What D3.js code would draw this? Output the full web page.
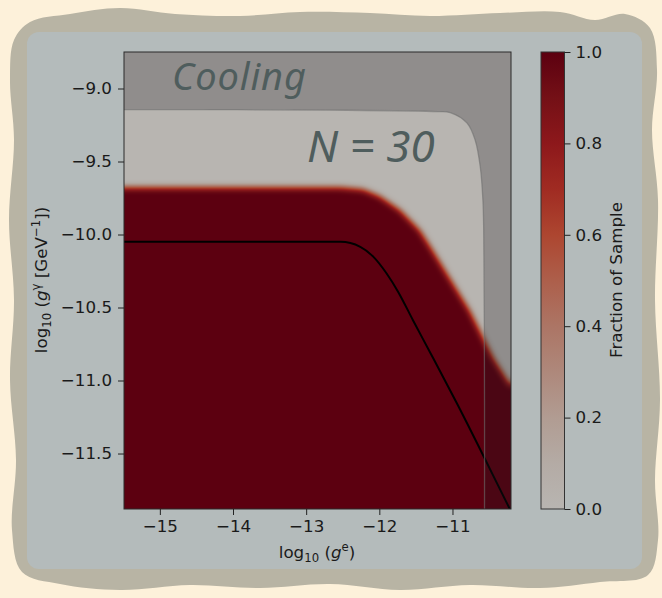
<!DOCTYPE html>
<html><head><meta charset="utf-8">
<script src="https://cdn.jsdelivr.net/npm/d3@7"></script>
<style>html,body{margin:0;padding:0;background:#fdf1da;}svg{display:block;}</style>
</head><body>
<svg id="chart" width="662" height="598"></svg>
<script>
// ---------- data ----------
const xTicks = [-15, -14, -13, -12, -11];
const yTicks = [-9.0, -9.5, -10.0, -10.5, -11.0, -11.5];
const cbTicks = [0.0, 0.2, 0.4, 0.6, 0.8, 1.0];
const xDomain = [-15.49, -10.2];
const yDomain = [-8.75, -11.88];

// fraction = 1 region boundary (edge of the red zone)
const redEdgeX = [-16.5, -15.49, -12.53, -12.22, -11.99, -11.71, -11.44, -11.30, -10.76, -10.43, -10.24, -10.05, -9.6];
const redEdgeY = [-9.675, -9.675, -9.675, -9.689, -9.737, -9.833, -9.970, -10.080, -10.52, -10.85, -11.00, -11.15, -11.5];

// black contour line
const lineX = [-15.49, -12.53, -12.26, -12.08, -11.90, -11.74, -11.54, -11.30, -10.94, -10.23, -10.196];
const lineY = [-10.05, -10.05, -10.084, -10.153, -10.267, -10.395, -10.587, -10.813, -11.156, -11.866, -11.90];

// cooling excluded region boundary
const coolX = [-15.49, -12.70, -11.20, -11.03, -10.80, -10.69, -10.62, -10.584, -10.573, -10.562, -10.562];
const coolY = [-9.144, -9.148, -9.158, -9.165, -9.237, -9.353, -9.536, -9.764, -9.97, -11.135, -11.88];

// colour map (fraction of sample)
const cmapStops = [0.0, 0.1, 0.2, 0.3, 0.4, 0.5, 0.6, 0.7, 0.8, 0.9, 1.0];
const cmapColors = ["#b8b5b1", "#b4aba5", "#b19c92", "#ae887b", "#ac7565", "#ad5f4b", "#ad4630", "#a02b22", "#8d181b", "#741016", "#5c0010"];

// decorative frame outline
const frameX = [30, 70, 120, 175, 240, 300, 370, 430, 500, 560, 595, 625, 650, 657, 652, 658, 655, 660, 655, 658, 648, 600, 540, 470, 400, 330, 260, 190, 120, 60, 22, 12, 16, 10, 14, 9, 14, 10, 14];
const frameY = [22, 14, 8, 14, 16, 12, 13, 16, 13, 12, 20, 14, 28, 70, 130, 200, 300, 400, 480, 540, 575, 582, 588, 585, 590, 584, 588, 585, 590, 584, 572, 530, 460, 380, 300, 220, 140, 80, 40];

// ---------- layout ----------
const L = 124, T = 52, W = 387, H = 457;
const FS = 16.7;
const svg = d3.select("#chart");
const x = d3.scaleLinear().domain(xDomain).range([L, L + W]);
const y = d3.scaleLinear().domain(yDomain).range([T, T + H]);
const cmap = d3.scaleLinear().domain(cmapStops).range(cmapColors).interpolate(d3.interpolateRgb).clamp(true);

// background frame
svg.append("rect").attr("width", 662).attr("height", 598).attr("fill", "#fdf1da");
svg.append("path")
  .attr("d", d3.line().curve(d3.curveCatmullRomClosed)(frameX.map((v, i) => [v, frameY[i]])))
  .attr("fill", "#b8b4a4");
svg.append("rect").attr("x", 27).attr("y", 32).attr("width", 615).attr("height", 537)
  .attr("rx", 12).attr("fill", "#b4bbbb");

// ---------- heat map via canvas ----------
const cv = document.createElement("canvas");
cv.width = W; cv.height = H;
const ctx = cv.getContext("2d");
const xs = d3.scaleLinear().domain(xDomain).range([0, W]);
const ys = d3.scaleLinear().domain(yDomain).range([0, H]);
const poly = redEdgeX.map((v, i) => [xs(v), ys(redEdgeY[i])]);
poly.push([xs(-9.6), ys(-13)], [xs(-16.5), ys(-13)]);
ctx.fillStyle = "#fff";
ctx.beginPath();
d3.line().context(ctx)(poly);
ctx.closePath();
ctx.fill();
const img = ctx.getImageData(0, 0, W, H);
let f = new Float32Array(W * H);
for (let i = 0; i < W * H; i++) f[i] = img.data[i * 4 + 3] / 255;
function boxBlur(src, r) {
  const tmp = new Float32Array(W * H), out = new Float32Array(W * H);
  for (let j = 0; j < H; j++) for (let i = 0; i < W; i++) {
    let s = 0;
    for (let k = -r; k <= r; k++) { const ii = Math.min(W - 1, Math.max(0, i + k)); s += src[j * W + ii]; }
    tmp[j * W + i] = s / (2 * r + 1);
  }
  for (let j = 0; j < H; j++) for (let i = 0; i < W; i++) {
    let s = 0;
    for (let k = -r; k <= r; k++) { const jj = Math.min(H - 1, Math.max(0, j + k)); s += tmp[jj * W + i]; }
    out[j * W + i] = s / (2 * r + 1);
  }
  return out;
}
for (let p = 0; p < 3; p++) f = boxBlur(f, 3);
const out = ctx.createImageData(W, H);
for (let i = 0; i < W * H; i++) {
  const c = d3.rgb(cmap(f[i]));
  out.data[i * 4] = c.r; out.data[i * 4 + 1] = c.g; out.data[i * 4 + 2] = c.b; out.data[i * 4 + 3] = 255;
}
ctx.putImageData(out, 0, 0);
svg.append("image").attr("x", L).attr("y", T).attr("width", W).attr("height", H)
  .attr("preserveAspectRatio", "none").attr("href", cv.toDataURL());

// clip
svg.append("clipPath").attr("id", "plotclip").append("rect")
  .attr("x", L).attr("y", T).attr("width", W).attr("height", H);
const g = svg.append("g").attr("clip-path", "url(#plotclip)");

// contour line
g.append("path")
  .attr("d", d3.line().curve(d3.curveMonotoneX)(lineX.map((v, i) => [x(v), y(lineY[i])])))
  .attr("fill", "none").attr("stroke", "#000").attr("stroke-width", 2);

// cooling overlay
const coolPts = coolX.map((v, i) => [x(v), y(coolY[i])]);
const coolLine = d3.line().curve(d3.curveCatmullRom);
g.append("path")
  .attr("d", coolLine(coolPts) + `L${x(xDomain[1]) + 5},${y(yDomain[1]) + 5}L${x(xDomain[1]) + 5},${T - 5}L${L - 5},${T - 5}Z`)
  .attr("fill", "rgb(22,24,30)").attr("fill-opacity", 0.25);
g.append("path").attr("d", coolLine(coolPts))
  .attr("fill", "none").attr("stroke", "#6e6e6e").attr("stroke-opacity", 0.6).attr("stroke-width", 1.3);

// frame
svg.append("rect").attr("x", L).attr("y", T).attr("width", W).attr("height", H)
  .attr("fill", "none").attr("stroke", "#2b2b2b").attr("stroke-width", 1);

// annotations
svg.append("text").attr("x", 172).attr("y", 90).attr("textLength", 134).attr("lengthAdjust", "spacing")
  .attr("font-family", "Noto Sans").attr("font-style", "italic").attr("font-size", 38)
  .attr("fill", "#4f5d5d").text("Cooling");
svg.append("text").attr("x", 307).attr("y", 162)
  .attr("font-family", "Noto Sans").attr("font-style", "italic").attr("font-size", 44)
  .attr("fill", "#4f5d5d").text("N = 30");

// axes
const font = "DejaVu Sans";
const xAxis = svg.append("g").attr("transform", `translate(0,${T + H})`)
  .call(d3.axisBottom(x).tickValues(xTicks).tickSize(6).tickPadding(5).tickFormat(d => d3.format("d")(d).replace("-", "−")));
const yAxis = svg.append("g").attr("transform", `translate(${L},0)`)
  .call(d3.axisLeft(y).tickValues(yTicks).tickSize(6).tickPadding(6).tickFormat(d => d3.format(".1f")(d).replace("-", "−")));
[xAxis, yAxis].forEach(a => {
  a.select(".domain").remove();
  a.selectAll("line").attr("stroke", "#222");
  a.selectAll("text").attr("font-family", font).attr("font-size", FS).attr("fill", "#1a1a1a");
});

// colorbar
const cbX = 541, cbW = 23.5;
const cy = d3.scaleLinear().domain([0, 1]).range([T + H, T]);
const grad = svg.append("defs").append("linearGradient").attr("id", "cbgrad")
  .attr("x1", 0).attr("y1", 1).attr("x2", 0).attr("y2", 0);
cmapStops.forEach((s, i) => grad.append("stop").attr("offset", s).attr("stop-color", cmapColors[i]));
svg.append("rect").attr("x", cbX).attr("y", T).attr("width", cbW).attr("height", H)
  .attr("fill", "url(#cbgrad)").attr("stroke", "#333").attr("stroke-width", 1);
const cbAxis = svg.append("g").attr("transform", `translate(${cbX + cbW},0)`)
  .call(d3.axisRight(cy).tickValues(cbTicks).tickSize(6).tickPadding(5).tickFormat(d3.format(".1f")));
cbAxis.select(".domain").remove();
cbAxis.selectAll("line").attr("stroke", "#222");
cbAxis.selectAll("text").attr("font-family", font).attr("font-size", FS).attr("fill", "#1a1a1a");

// axis labels
const SUB = 11.7;
function richText(parent, parts) {
  const t = parent.append("text").attr("font-family", font).attr("fill", "#1a1a1a").attr("font-size", FS);
  parts.forEach(p => {
    const ts = t.append("tspan").text(p.t).attr("font-size", p.s || FS);
    if (p.dy) ts.attr("dy", p.dy);
    if (p.i) ts.attr("font-style", "italic");
  });
  return t;
}
richText(svg, [
  { t: "log" }, { t: "10", s: SUB, dy: 4 }, { t: " (", dy: -4 }, { t: "g", i: true },
  { t: "e", s: SUB, dy: -7 }, { t: ")", dy: 7 }
]).attr("x", 317).attr("y", 558).attr("text-anchor", "middle");

richText(svg, [
  { t: "log" }, { t: "10", s: SUB, dy: 4 }, { t: " (", dy: -4 }, { t: "g", i: true },
  { t: "γ", s: SUB, dy: -7 }, { t: " [GeV", dy: 7 }, { t: "−1", s: SUB, dy: -7 }, { t: "])", dy: 7 }
]).attr("text-anchor", "middle").attr("transform", "translate(47,280) rotate(-90)");

svg.append("text").attr("transform", "translate(622,280) rotate(-90)").attr("text-anchor", "middle")
  .attr("font-family", font).attr("font-size", FS).attr("fill", "#1a1a1a").text("Fraction of Sample");
</script>
</body></html>
